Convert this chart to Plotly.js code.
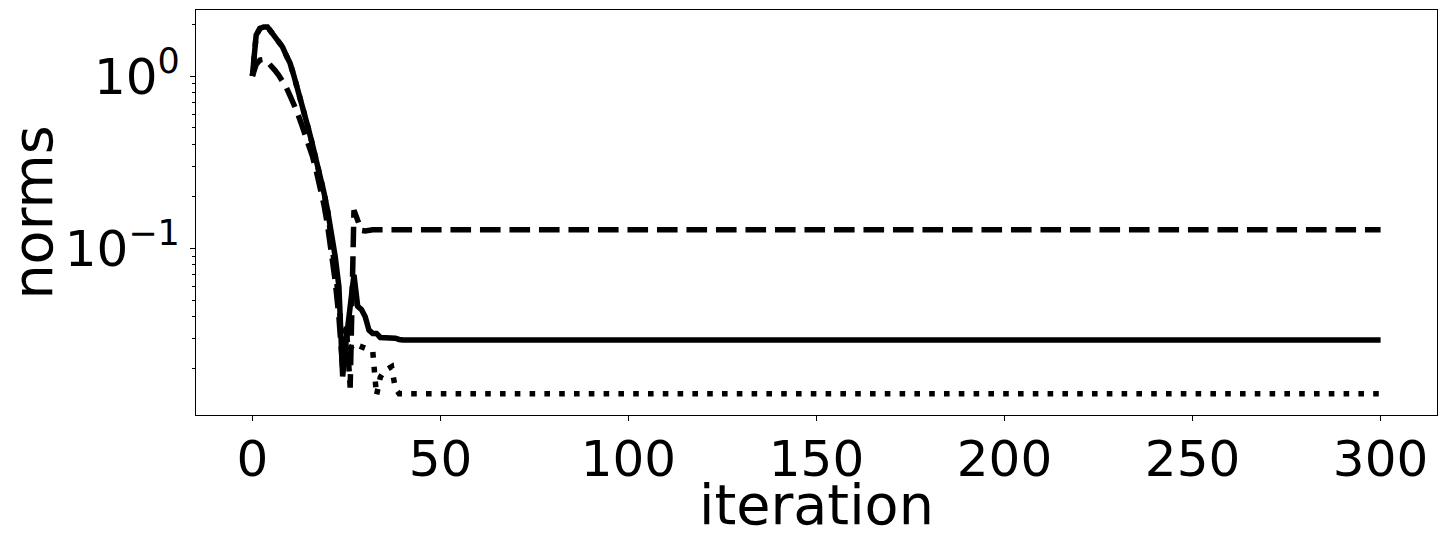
<!DOCTYPE html>
<html>
<head>
<meta charset="utf-8">
<script src="https://cdn.plot.ly/plotly-3.0.1.min.js"></script>
<style>
  html, body { margin: 0; padding: 0; background: #ffffff; }
  #chart { width: 1446px; height: 545px; }
</style>
</head>
<body>
<div id="chart"></div>
<script>
// iterations (0..40 explicitly, then the final iteration 300)
const iteration = [0,1,2,3,4,5,6,7,8,9,10,11,12,13,14,15,16,17,18,19,20,
                   21,22,23,24,25,26,27,28,29,30,31,32,33,34,35,36,37,38,39,40,300];

// solid series
const normSolid = [1.00,1.73,1.89,1.93,1.93,1.81,1.69,1.60,1.48,1.32,1.19,
                   1.01,0.85,0.71,0.59,0.485,0.397,0.325,0.266,0.212,0.165,
                   0.125,0.090,0.060,0.018,0.030,0.048,0.070,0.046,0.044,0.040,
                   0.0334,0.0320,0.0320,0.0303,0.0303,0.0302,0.0301,0.0300,0.0295,0.0293,0.0293];

// dashed series
const normDashed = [1.00,1.17,1.24,1.25,1.21,1.15,1.08,1.01,0.94,0.86,0.77,
                    0.69,0.61,0.53,0.46,0.40,0.34,0.28,0.23,0.18,0.135,
                    0.095,0.065,0.040,0.020,0.035,0.0155,0.166,0.142,0.127,0.126,
                    0.128,0.128,0.128,0.128,0.128,0.128,0.128,0.128,0.128,0.128,0.128];

// dotted series
const normDotted = [1.00,1.73,1.89,1.93,1.93,1.81,1.69,1.60,1.48,1.32,1.19,
                    1.01,0.85,0.71,0.59,0.485,0.397,0.325,0.266,0.212,0.165,
                    0.110,0.078,0.050,0.025,0.020,0.026,0.028,0.0273,0.0267,0.0264,
                    0.0255,0.0252,0.01397,0.0178,0.0193,0.0200,0.0205,0.01535,0.01429,0.01429,0.01429];

const xTickVals = [0,50,100,150,200,250,300];
const yTickVals = [1, 0.1];
const yTickText = ['10<sup>0</sup>', '10<sup>\u22121</sup>'];
const yMinorVals = [2, 0.9,0.8,0.7,0.6,0.5,0.4,0.3,0.2, 0.09,0.08,0.07,0.06,0.05,0.04,0.03,0.02];
const xTitle = 'iteration';
const yTitle = 'norms';

const FONT = 'DejaVu Sans, sans-serif';
const LW = 5.5;

const traces = [
  {x: iteration, y: normDotted, mode: 'lines', line: {color: '#000', width: LW, dash: '5.6px,9.2px'}, hoverinfo: 'skip'},
  {x: iteration, y: normSolid, mode: 'lines', line: {color: '#000', width: LW}, hoverinfo: 'skip'},
  {x: iteration, y: normDashed, mode: 'lines', line: {color: '#000', width: LW, dash: '20.6px,8.9px'}, hoverinfo: 'skip'}
];

const layout = {
  width: 1446, height: 545,
  margin: {l: 196, r: 9, t: 10, b: 130, pad: 0},
  paper_bgcolor: '#fff', plot_bgcolor: '#fff',
  showlegend: false,
  font: {family: FONT, color: '#000'},
  xaxis: {
    range: [-15, 315], tickmode: 'array', tickvals: xTickVals,
    ticks: 'outside', ticklen: 5, tickwidth: 1.1, tickcolor: '#000',
    ticklabelstandoff: -5,
    showline: true, linecolor: '#000', linewidth: 1.1, mirror: true,
    showgrid: false, zeroline: false, automargin: false,
    tickfont: {family: FONT, size: 50, color: '#000'}
  },
  yaxis: {
    type: 'log', range: [-1.969, 0.384], tickmode: 'array', tickvals: yTickVals, ticktext: yTickText,
    ticks: 'outside', ticklen: 5, tickwidth: 1.1, tickcolor: '#000',
    minor: {ticks: 'outside', ticklen: 2.8, tickwidth: 1, tickcolor: '#000', tickvals: yMinorVals, showgrid: false},
    showline: true, linecolor: '#000', linewidth: 1.1, mirror: true,
    showgrid: false, zeroline: false, automargin: false,
    tickfont: {family: FONT, size: 50, color: '#000'},
    title: {text: yTitle, font: {family: FONT, size: 55.6, color: '#000'}, standoff: 0}
  },
  annotations: [
    {text: xTitle, xref: 'paper', yref: 'paper', x: 0.5, y: 0, xanchor: 'center', yanchor: 'middle',
     yshift: -89, showarrow: false, font: {family: FONT, size: 55.6, color: '#000'}}
  ]
};

Plotly.newPlot('chart', traces, layout, {staticPlot: true, displayModeBar: false});
</script>
</body>
</html>
